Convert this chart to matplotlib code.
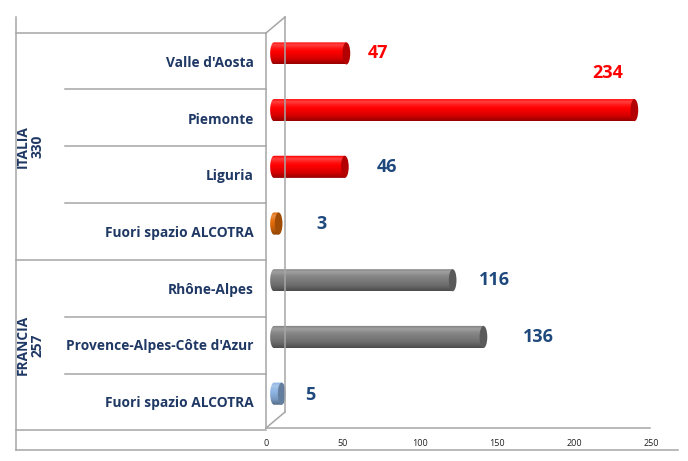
import matplotlib
matplotlib.use("Agg")
import matplotlib.pyplot as plt
import matplotlib.transforms as mtransforms
from matplotlib.lines import Line2D
from matplotlib.patches import Ellipse, Polygon
import numpy as np
from matplotlib.colors import to_rgb

regions = ["Valle d'Aosta", "Piemonte", "Liguria", "Fuori spazio ALCOTRA",
           "Rhône-Alpes", "Provence-Alpes-Côte d'Azur", "Fuori spazio ALCOTRA"]
values = [47, 234, 46, 3, 116, 136, 5]
groups = ["ITALIA\n330", "FRANCIA\n257"]
xticks = [0, 50, 100, 150, 200, 250]

bar_colors = ["#ff0000", "#ff0000", "#ff0000", "#e46c0a", "#808080", "#808080", "#8db4e2"]
label_colors = ["#ff0000", "#ff0000", "#1f497d", "#1f497d", "#1f497d", "#1f497d", "#1f497d"]
# offsets of the value labels from the bar end, in pixels (x, y)
label_offsets = [(32, 0), (-27, 37), (42, 0), (43, 0), (42, 0), (55, 0), (29, -1)]

W, H = 688, 461
font = "Open Sans"
navy = "#1f3864"
grid = "#a6a6a6"

fig = plt.figure(figsize=(W / 100, H / 100), dpi=100)
fig.patch.set_facecolor("white")

x_lo = -4
ax = fig.add_axes([(274 + x_lo * 1.54) / W, 1 - 428 / H, (385 - x_lo * 1.54) / W, (428 - 17) / H])
for s in ax.spines.values():
    s.set_visible(False)


def shade(c, f):
    r = np.array(to_rgb(c))
    if f >= 0:
        return r + (1 - r) * f
    return r * (1 + f)


bh = 0.39
dy = -0.14
cap = 5.0
prof = np.linspace(0, 1, 40)
fac = np.interp(prof, [0, 0.15, 0.35, 0.75, 1.0], [-0.05, 0.25, 0.05, -0.15, -0.4])
t = np.linspace(np.pi / 2, 3 * np.pi / 2, 30)
for i, (v, c) in enumerate(zip(values, bar_colors)):
    yc = i + dy
    grad = np.array([shade(c, f) for f in fac]).reshape(-1, 1, 3)
    im = ax.imshow(grad, extent=[-cap / 2, v, yc + bh / 2, yc - bh / 2], aspect="auto",
                   interpolation="bilinear", zorder=3)
    pts = [(cap / 2 * np.cos(a), yc - bh / 2 * np.sin(a)) for a in t]
    pts += [(v, yc + bh / 2), (v, yc - bh / 2)]
    body = Polygon(pts, closed=True, facecolor="none", edgecolor="none", transform=ax.transData)
    ax.add_patch(body)
    im.set_clip_path(body)
    ax.add_patch(Ellipse((v, yc), cap, bh, facecolor=shade(c, -0.3), edgecolor="none", zorder=4))

ax.set_xlim(x_lo, 250)
ax.set_ylim(6.465, -0.782)

for i, v in enumerate(values):
    ox, oy = label_offsets[i]
    ax.annotate(str(v), (v, i + dy), xytext=(ox * 0.72, oy * 0.72), textcoords="offset points",
                ha="center", va="center", fontsize=13, fontweight="bold",
                color=label_colors[i], family=font)

ax.set_yticks(range(len(regions)))
ax.set_yticklabels(regions, family=font, fontweight="bold", fontsize=9.9, color=navy)
ax.tick_params(axis="y", length=0, pad=10)
ax.set_xticks(xticks)
ax.set_xticklabels([str(t) for t in xticks], fontsize=6.5, color="#222222", family=font)
ax.tick_params(axis="x", length=0, pad=8)
shift = mtransforms.ScaledTranslation(-8 / 100, 0, fig.dpi_scale_trans)
for lab in ax.get_xticklabels():
    lab.set_transform(lab.get_transform() + shift)

# group labels
tr = mtransforms.blended_transform_factory(fig.transFigure, ax.transData)
ax.text(30 / W, 1.5, groups[0], transform=tr, rotation=90, ha="center", va="center",
        fontsize=9.9, fontweight="bold", color=navy, family=font, linespacing=1.1)
ax.text(30 / W, 5.0, groups[1], transform=tr, rotation=90, ha="center", va="center",
        fontsize=9.9, fontweight="bold", color=navy, family=font, linespacing=1.1)


def line(xs, ys, **kw):
    fig.add_artist(Line2D([x / W for x in xs], [1 - y / H for y in ys],
                          transform=fig.transFigure, color=grid, lw=1.1, **kw))


# category table lines
line([16, 266], [33, 33])
for yy, x0 in [(89, 65), (146, 65), (203, 65), (260, 16), (317, 65), (374, 65), (430, 16)]:
    line([x0, 266], [yy, yy])
line([16, 16], [17, 450])
line([266, 266], [33, 428])
# 3d wall
line([266, 285], [33, 17])
line([285, 285], [17, 412])
line([266, 285], [428, 412])
line([266, 650], [428, 428])
line([16, 678], [450, 450])

fig.savefig("out.png", dpi=100)
